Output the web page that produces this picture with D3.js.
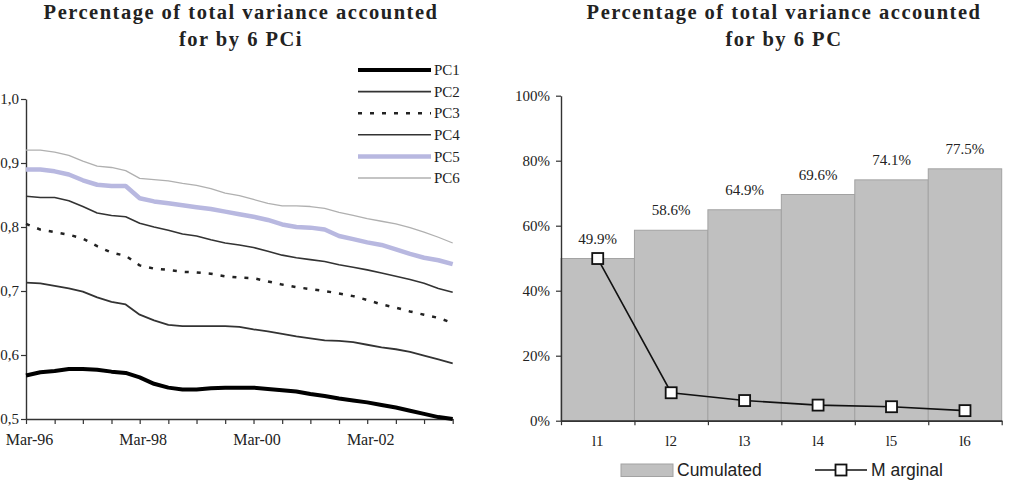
<!DOCTYPE html>
<html>
<head>
<meta charset="utf-8">
<script src="https://cdn.jsdelivr.net/npm/d3@7"></script>
<style>
body { margin: 0; background: #fff; }
svg text { font-family: "Liberation Serif", "Times New Roman", serif; fill: #222; }
</style>
</head>
<body>
<div id="vis"></div>
<script>
// left chart data (quarterly readings)
var quarters = ["1996-03","1996-06","1996-09","1996-12","1997-03","1997-06","1997-09","1997-12",
    "1998-03","1998-06","1998-09","1998-12","1999-03","1999-06","1999-09","1999-12",
    "2000-03","2000-06","2000-09","2000-12","2001-03","2001-06","2001-09","2001-12",
    "2002-03","2002-06","2002-09","2002-12","2003-03","2003-06","2003-09"];
var pc1 = [0.568,0.573,0.575,0.578,0.578,0.577,0.574,0.572,0.565,0.555,0.549,0.546,0.546,0.548,0.549,0.549,
    0.549,0.547,0.545,0.543,0.539,0.536,0.532,0.529,0.526,0.522,0.518,0.513,0.508,0.503,0.500];
var pc2 = [0.713,0.712,0.708,0.704,0.699,0.690,0.683,0.679,0.663,0.654,0.647,0.645,0.645,0.645,0.645,0.644,
    0.640,0.637,0.633,0.629,0.626,0.623,0.622,0.620,0.616,0.612,0.609,0.605,0.599,0.593,0.587];
var pc3 = [0.805,0.796,0.792,0.788,0.782,0.770,0.760,0.755,0.740,0.735,0.733,0.730,0.729,0.727,0.723,0.721,
    0.720,0.715,0.710,0.706,0.703,0.700,0.696,0.692,0.686,0.679,0.674,0.668,0.663,0.658,0.650];
var pc4 = [0.848,0.846,0.846,0.841,0.832,0.822,0.818,0.816,0.806,0.800,0.795,0.789,0.786,0.780,0.775,0.772,
    0.768,0.762,0.756,0.752,0.749,0.746,0.741,0.737,0.733,0.728,0.723,0.718,0.712,0.704,0.698];
var pc5 = [0.890,0.890,0.887,0.882,0.873,0.866,0.864,0.864,0.845,0.840,0.837,0.834,0.831,0.828,0.824,0.820,
    0.816,0.811,0.804,0.800,0.799,0.796,0.786,0.781,0.776,0.772,0.765,0.758,0.752,0.748,0.742];
var pc6 = [0.920,0.920,0.917,0.912,0.903,0.895,0.893,0.888,0.876,0.874,0.872,0.868,0.865,0.860,0.853,0.849,
    0.843,0.837,0.833,0.833,0.832,0.829,0.823,0.818,0.813,0.809,0.805,0.799,0.792,0.784,0.775];
var pcNames = ["PC1","PC2","PC3","PC4","PC5","PC6"];
var leftTicks = [0.5, 0.6, 0.7, 0.8, 0.9, 1.0];
var dateLabels = ["Mar-96","Mar-98","Mar-00","Mar-02"];

// right chart data
var components = ["l1","l2","l3","l4","l5","l6"];
var cumulated = [49.9, 58.6, 64.9, 69.6, 74.1, 77.5];
var marginal = [49.9, 8.6, 6.2, 4.8, 4.3, 3.1];
var rightTicks = [0, 20, 40, 60, 80, 100];

var styles = [
    {color: "#000", width: 4, dash: null},
    {color: "#333", width: 1.8, dash: null},
    {color: "#222", width: 2.5, dash: "4,8"},
    {color: "#333", width: 1.6, dash: null},
    {color: "#b8b8e0", width: 4.5, dash: null},
    {color: "#b0b0b0", width: 1.3, dash: null}
];

var width = 1011, height = 492;
var svg = d3.select("#vis").append("svg")
    .attr("width", width)
    .attr("height", height);

function title(cx, l1, l2) {
    var t = svg.append("text")
        .attr("text-anchor", "middle")
        .style("font-size", "20.5px")
        .style("font-weight", "bold")
        .style("letter-spacing", "1.5px");
    t.append("tspan").attr("x", cx).attr("y", 19).text(l1);
    t.append("tspan").attr("x", cx).attr("y", 46).text(l2);
}

function styleAxis(g) {
    g.select(".domain").attr("stroke", "#333").attr("stroke-width", 1.4);
    g.selectAll(".tick line").attr("stroke", "#333").attr("stroke-width", 1.2);
    g.selectAll(".tick text").attr("fill", "#222").style("font-family", "Liberation Serif");
}

// ---- left chart
title(241, "Percentage of total variance accounted", "for by 6 PCi");

var parse = d3.timeParse("%Y-%m");
var dates = quarters.map(parse);
var x = d3.scaleTime().domain([dates[0], dates[dates.length - 1]]).range([26, 452.7]);
var y = d3.scaleLinear().domain([0.5, 1.0]).range([419, 99]);

var fmt = d3.timeFormat("%b-%y");
var halfYears = dates.filter(function(d, i) { return i % 2 === 0; });
var xAxis = svg.append("g")
    .attr("transform", "translate(0,419)")
    .call(d3.axisBottom(x)
        .tickValues(halfYears)
        .tickFormat(function(d) { return dateLabels.indexOf(fmt(d)) >= 0 ? fmt(d) : ""; })
        .tickSize(5).tickSizeOuter(0).tickPadding(10));
styleAxis(xAxis);
xAxis.selectAll(".tick text").attr("dx", 3).style("font-size", "16px");

var yAxis = svg.append("g")
    .attr("transform", "translate(26,0)")
    .call(d3.axisLeft(y).tickValues(leftTicks)
        .tickFormat(function(d) { return d3.format(".1f")(d).replace(".", ","); })
        .tickSize(5).tickSizeOuter(0).tickPadding(2));
styleAxis(yAxis);
yAxis.selectAll(".tick text").style("font-size", "15px");

var series = [pc1, pc2, pc3, pc4, pc5, pc6];
var line = d3.line()
    .x(function(d, i) { return x(dates[i]); })
    .y(function(d) { return y(d); });

// draw back to front so PC1 is on top
[5, 4, 3, 2, 1, 0].forEach(function(k) {
    svg.append("path")
        .datum(series[k])
        .attr("d", line)
        .attr("fill", "none")
        .attr("stroke", styles[k].color)
        .attr("stroke-width", styles[k].width)
        .attr("stroke-dasharray", styles[k].dash)
        .attr("stroke-linejoin", "round");
});

// legend
var leg = svg.append("g");
pcNames.forEach(function(name, i) {
    var ly = 70 + i * 21.6;
    leg.append("line")
        .attr("x1", 358).attr("x2", 431)
        .attr("y1", ly).attr("y2", ly)
        .attr("stroke", styles[i].color)
        .attr("stroke-width", styles[i].width)
        .attr("stroke-dasharray", styles[i].dash);
    leg.append("text")
        .attr("x", 434).attr("y", ly).attr("dy", "0.35em")
        .style("font-size", "15px")
        .text(name);
});

// ---- right chart
title(784, "Percentage of total variance accounted", "for by 6 PC");

var xb = d3.scaleBand().domain(components).range([561, 1001.7]).padding(0);
var yr = d3.scaleLinear().domain([0, 100]).range([420.7, 95.7]);

svg.selectAll("rect.bar")
    .data(cumulated)
    .enter()
    .append("rect")
    .attr("class", "bar")
    .attr("x", function(d, i) { return xb(components[i]); })
    .attr("y", function(d) { return yr(d); })
    .attr("width", xb.bandwidth())
    .attr("height", function(d) { return yr(0) - yr(d); })
    .attr("fill", "#c0c0c0")
    .attr("stroke", "#a2a2a2")
    .attr("stroke-width", 1);

svg.selectAll("text.val")
    .data(cumulated)
    .enter()
    .append("text")
    .attr("class", "val")
    .attr("x", function(d, i) { return xb(components[i]) + xb.bandwidth() / 2; })
    .attr("y", function(d) { return yr(d) - 15; })
    .attr("text-anchor", "middle")
    .style("font-size", "15px")
    .text(function(d) { return d3.format(".1f")(d) + "%"; });

var yrAxis = svg.append("g")
    .attr("transform", "translate(561,0)")
    .call(d3.axisLeft(yr).tickValues(rightTicks)
        .tickFormat(function(d) { return d + "%"; })
        .tickSize(5).tickSizeOuter(0).tickPadding(6));
styleAxis(yrAxis);
yrAxis.selectAll(".tick text").style("font-size", "15px");

var xbAxis = svg.append("g")
    .attr("transform", "translate(0,420.7)")
    .call(d3.axisBottom(xb).tickSize(0).tickPadding(15));
styleAxis(xbAxis);
xbAxis.selectAll(".tick text").style("font-size", "15px");

var bounds = d3.scaleLinear().domain([0, components.length]).range([561, 1001.7]);
var xbTicks = svg.append("g")
    .attr("transform", "translate(0,420.7)")
    .call(d3.axisBottom(bounds).ticks(components.length).tickFormat("").tickSize(4.5).tickSizeOuter(0));
styleAxis(xbTicks);

var mline = d3.line()
    .x(function(d, i) { return xb(components[i]) + xb.bandwidth() / 2; })
    .y(function(d) { return yr(d); });
svg.append("path")
    .datum(marginal)
    .attr("d", mline)
    .attr("fill", "none")
    .attr("stroke", "#111")
    .attr("stroke-width", 1.6);

svg.selectAll("rect.mark")
    .data(marginal)
    .enter()
    .append("rect")
    .attr("class", "mark")
    .attr("x", function(d, i) { return xb(components[i]) + xb.bandwidth() / 2 - 5.5; })
    .attr("y", function(d) { return yr(d) - 5.5; })
    .attr("width", 11).attr("height", 11)
    .attr("fill", "#fff")
    .attr("stroke", "#111")
    .attr("stroke-width", 1.8);

// bottom legend
var leg2 = svg.append("g");
leg2.append("rect")
    .attr("x", 621).attr("y", 464).attr("width", 52).attr("height", 12.5)
    .attr("fill", "#c0c0c0").attr("stroke", "#a2a2a2");
leg2.append("text")
    .attr("x", 677).attr("y", 476)
    .style("font-family", "Liberation Sans").style("font-size", "17.5px")
    .text("Cumulated");
leg2.append("line")
    .attr("x1", 815).attr("x2", 867).attr("y1", 470).attr("y2", 470)
    .attr("stroke", "#111").attr("stroke-width", 1.6);
leg2.append("rect")
    .attr("x", 835.5).attr("y", 464.5).attr("width", 11).attr("height", 11)
    .attr("fill", "#fff").attr("stroke", "#111").attr("stroke-width", 1.8);
leg2.append("text")
    .attr("x", 871).attr("y", 476)
    .style("font-family", "Liberation Sans").style("font-size", "17.5px")
    .text("M arginal");
</script>
</body>
</html>
